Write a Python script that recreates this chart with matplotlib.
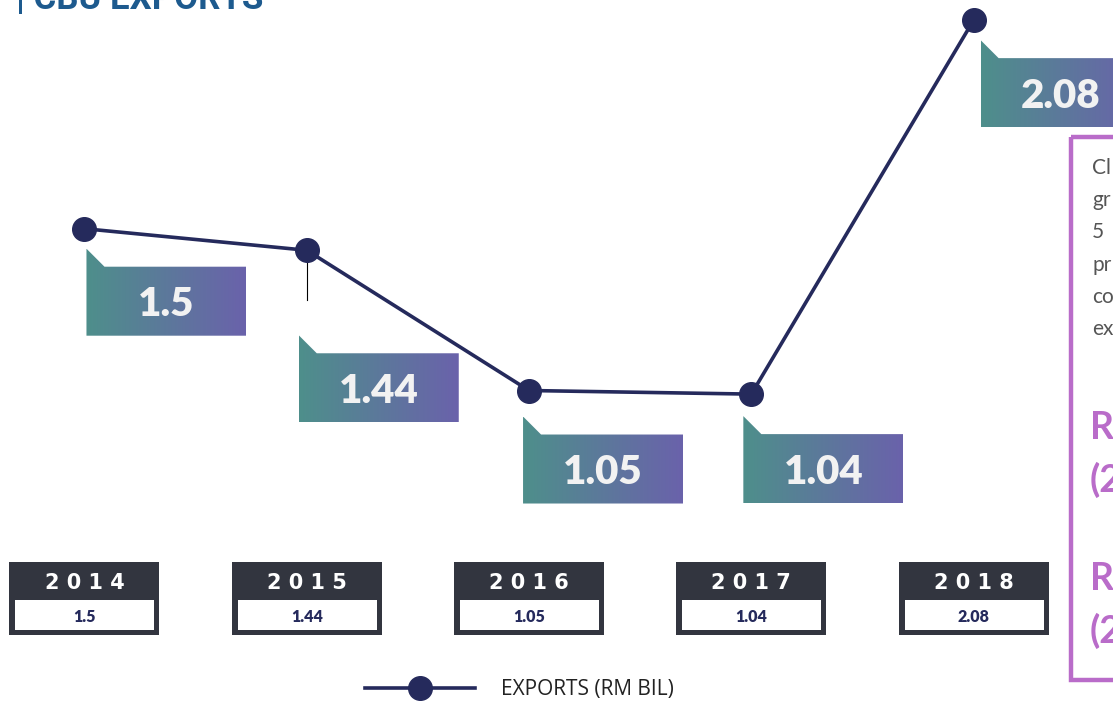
import matplotlib
matplotlib.use('Agg')
import matplotlib.pyplot as plt
import numpy as np
from matplotlib.patches import Polygon, Rectangle
from matplotlib.colors import LinearSegmentedColormap

# ---------------- data ----------------
years = ['2014', '2015', '2016', '2017', '2018']
exports = [1.5, 1.44, 1.05, 1.04, 2.08]
value_labels = ['1.5', '1.44', '1.05', '1.04', '2.08']
series_name = 'EXPORTS (RM BIL)'
title_text = '| CBU EXPORTS'
side_lines = ['Cl', 'gr', '5', 'pr', 'co', 'ex']
side_bold = ['R', '(2', 'R', '(2']

# ---------------- style ----------------
W, H = 1113, 703
NAVY = '#252a5c'
DARK = '#32353f'
PURPLE = '#b96cc9'
BLUE = '#1d5a8e'
callout_offsets = [(2, 20), (-8, 85), (-6, 26), (-8, 22), (7, 20)]
connector = [False, True, False, False, False]

fig = plt.figure(figsize=(W / 100, H / 100), dpi=100)
fig.patch.set_facecolor('white')
deco = fig.add_axes([0, 0, 1, 1], zorder=1)
deco.axis('off')
ax = fig.add_axes([0, 0, 1, 1], zorder=2)
ax.patch.set_alpha(0)
ax.set_xlim(-0.380, 4.627)
ax.set_ylim(0.181, 2.136)
ax.axis('off')

x = np.arange(len(years))
ax.plot(x, exports, color=NAVY, lw=2.6, marker='o', ms=17, mfc=NAVY,
        mec=NAVY, label=series_name)


def to_px(xv, yv):
    dx, dy = ax.transData.transform((xv, yv))
    return dx, H - dy


cmap = LinearSegmentedColormap.from_list('g', ['#4e8f8b', '#6a62ab'])
grad = np.linspace(0, 1, 256).reshape(1, -1)
tab, bw, bh = 18, 160, 69
for i, (v, lab) in enumerate(zip(exports, value_labels)):
    px, py = to_px(i, v)
    L = px + callout_offsets[i][0]
    T = py + callout_offsets[i][1]
    poly = Polygon([(L, T), (L + tab, T + tab), (L + bw, T + tab),
                    (L + bw, T + tab + bh), (L, T + tab + bh)], closed=True,
                   facecolor='none', edgecolor='none')
    deco.add_patch(poly)
    im = deco.imshow(grad, cmap=cmap, extent=(L, L + bw, T + tab + bh, T),
                     aspect='auto', zorder=2, interpolation='bilinear')
    im.set_clip_path(poly)
    deco.text(L + bw / 2, T + tab + bh / 2, lab, ha='center',
              va='center_baseline', color='#f2f2f2', fontsize=29,
              fontweight='heavy', family=['Lato', 'DejaVu Sans'], zorder=3)
    if connector[i]:
        deco.plot([px, px], [py, T - 35], color='black', lw=0.8, zorder=1)

# year boxes
for i, (yr, lab) in enumerate(zip(years, value_labels)):
    cx, _ = to_px(i, exports[i])
    deco.add_patch(Rectangle((cx - 75, 562), 150, 73, facecolor=DARK,
                             edgecolor='none', zorder=2))
    deco.add_patch(Rectangle((cx - 69, 600), 139, 30, facecolor='white',
                             edgecolor='none', zorder=3))
    deco.text(cx, 581, ' '.join(yr), ha='center', va='center_baseline',
              color='white', fontsize=15, fontweight='bold',
              family=['DejaVu Sans'], zorder=4)
    deco.text(cx, 615, lab, ha='center', va='center_baseline', color=NAVY,
              fontsize=11.5, fontweight='heavy',
              family=['Lato', 'DejaVu Sans'], zorder=4)

# right-side panel (cropped)
deco.add_patch(Rectangle((1071, 137), 120, 543, facecolor='none',
                         edgecolor=PURPLE, lw=3.2, zorder=2))
for k, t in enumerate(side_lines):
    deco.text(1092, 166 + 32.2 * k, t, ha='left', va='center_baseline',
              color='#555555', fontsize=15, family=['Lato', 'DejaVu Sans'],
              zorder=3)
for k, t in enumerate(side_bold):
    yy = [425, 477, 576, 628][k]
    deco.text(1090, yy, t, ha='left', va='center_baseline', color=PURPLE,
              fontsize=27, fontweight='bold', family=['Lato', 'DejaVu Sans'],
              zorder=3)

# cropped title
deco.text(16, 9, title_text, ha='left', va='baseline', color=BLUE,
          fontsize=25, fontweight='bold',
          family=['Roboto', 'DejaVu Sans'], zorder=3)

deco.set_xlim(0, W)
deco.set_ylim(H, 0)

leg = ax.legend(loc='center left', bbox_to_anchor=(365 / W, 1 - 690 / H),
                bbox_transform=fig.transFigure, frameon=False, borderpad=0,
                borderaxespad=0, handlelength=5.3, handletextpad=1.25,
                numpoints=1, prop={'family': ['Open Sans', 'DejaVu Sans'],
                                   'size': 15})
for t in leg.get_texts():
    t.set_color('#222222')

fig.savefig('out.png', dpi=100, facecolor='white')
